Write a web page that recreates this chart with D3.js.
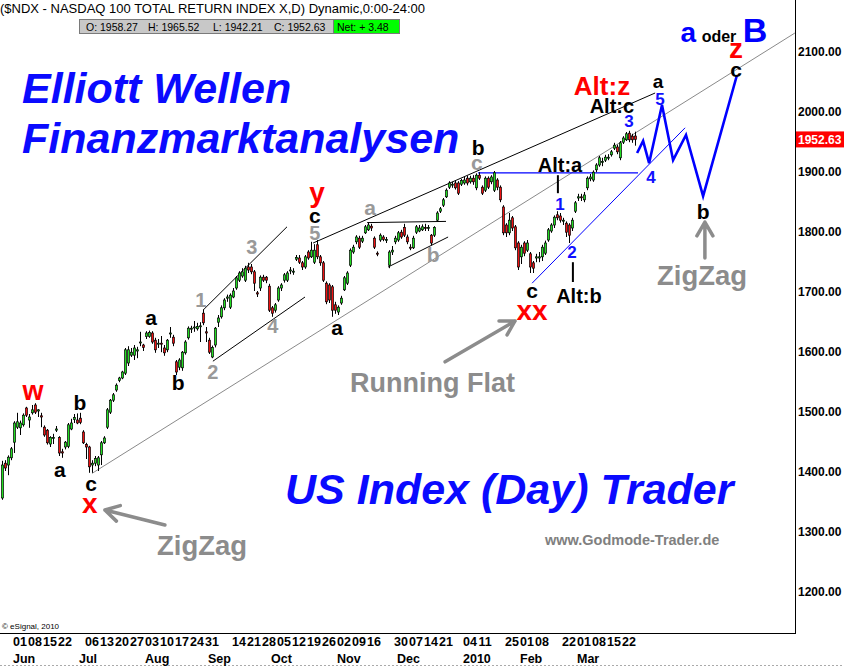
<!DOCTYPE html>
<html><head><meta charset="utf-8">
<script src="https://cdn.jsdelivr.net/npm/d3@7"></script>
<style>
html,body{margin:0;padding:0;background:#fff;}
svg{display:block;font-family:Arial,"Liberation Sans",sans-serif;}
</style></head><body>
<svg id="c" width="844" height="666"></svg>
<script>
// ---------- data (daily bars, index 0 = 21 May 2009) ----------
const opens = [
1355,1413,1410,1422,1448,1473,1472,1477,1505,1485,
1497,1510,1500,1492,1473,1468,1445,1455,1468,1456,
1432,1440,1441,1470,1486,1485,1488,1465,1444,1440,
1410,1413,1410,1427,1447,1473,1498,1518,1535,1551,
1555,1563,1580,1593,1593,1600,1615,1610,1624,1624,
1630,1618,1612,1613,1605,1602,1629,1623,1582,1573,
1572,1597,1622,1637,1640,1637,1641,1663,1632,1618,
1590,1610,1648,1657,1672,1688,1673,1690,1705,1718,
1725,1718,1740,1740,1732,1697,1705,1723,1723,1708,
1672,1668,1685,1705,1718,1718,1735,1732,1753,1755,
1747,1740,1765,1757,1748,1777,1757,1747,1713,1710,
1707,1677,1665,1680,1702,1713,1743,1765,1782,1788,
1783,1797,1802,1808,1788,1763,1785,1790,1785,1743,
1765,1782,1785,1798,1806,1790,1773,1772,1798,1800,
1802,1806,1805,1793,1793,1818,1833,1843,1857,1873,
1877,1880,1880,1878,1880,1888,1882,1888,1872,1893,
1873,1868,1888,1882,1868,1885,1873,1840,1810,1797,
1822,1807,1780,1757,1780,1768,1762,1747,1755,1755,
1757,1763,1785,1800,1810,1827,1825,1817,1813,1810,
1805,1833,1855,1857,1852,1872,1887,1885,1902,1910,
1915,1918,1922,1927,1938,1940,1922,1948,1952,1963,
1958,1958.27];
const highs = [
1417,1418,1426,1440,1483,1497,1484,1496,1507,1495,
1510,1513,1503,1497,1476,1470,1458,1462,1475,1458,
1437,1450,1480,1487,1495,1496,1497,1468,1447,1442,
1418,1425,1425,1450,1458,1505,1520,1530,1546,1557,
1567,1605,1608,1605,1610,1607,1632,1612,1633,1634,
1633,1622,1620,1625,1610,1620,1640,1627,1585,1588,
1600,1618,1641,1642,1650,1647,1648,1669,1640,1622,
1609,1640,1660,1676,1688,1694,1696,1705,1725,1733,
1738,1742,1747,1745,1735,1700,1726,1727,1725,1712,
1675,1680,1708,1713,1730,1733,1740,1738,1760,1760,
1750,1760,1768,1782,1778,1785,1760,1750,1716,1713,
1710,1682,1676,1692,1725,1733,1771,1777,1793,1792,
1792,1810,1815,1812,1791,1766,1796,1793,1790,1768,
1775,1792,1800,1802,1812,1794,1778,1792,1810,1810,
1811,1812,1810,1795,1808,1833,1840,1855,1871,1883,
1882,1884,1883,1887,1890,1892,1892,1893,1896,1898,
1876,1891,1891,1893,1900,1888,1876,1843,1813,1830,
1825,1810,1783,1777,1783,1785,1765,1750,1762,1765,
1777,1784,1805,1813,1826,1833,1830,1822,1816,1813,
1822,1850,1862,1862,1865,1891,1895,1901,1913,1925,
1922,1927,1928,1935,1947,1944,1950,1958,1965,1967,
1962,1965.52];
const lows = [
1352,1400,1393,1418,1430,1470,1460,1474,1490,1472,
1494,1495,1490,1473,1457,1444,1440,1445,1465,1425,
1422,1436,1438,1468,1480,1478,1478,1445,1420,1397,
1397,1408,1400,1410,1445,1470,1495,1515,1532,1548,
1553,1560,1575,1590,1585,1588,1608,1600,1620,1622,
1612,1597,1605,1598,1592,1598,1622,1608,1560,1568,
1567,1594,1619,1630,1632,1634,1615,1643,1615,1595,
1588,1606,1640,1654,1668,1682,1670,1688,1702,1715,
1722,1715,1730,1728,1700,1690,1700,1715,1713,1665,
1657,1664,1682,1700,1714,1715,1728,1727,1750,1745,
1735,1737,1752,1755,1745,1753,1742,1715,1678,1680,
1657,1662,1660,1677,1700,1710,1740,1762,1778,1770,
1780,1795,1800,1800,1770,1758,1782,1783,1780,1738,
1760,1778,1782,1787,1790,1778,1768,1770,1795,1798,
1800,1800,1800,1776,1790,1815,1830,1840,1855,1870,
1872,1869,1860,1875,1877,1876,1879,1877,1868,1885,
1860,1865,1870,1878,1865,1868,1848,1793,1790,1793,
1800,1768,1735,1745,1758,1765,1730,1730,1748,1748,
1750,1760,1782,1797,1805,1818,1814,1810,1790,1780,
1800,1830,1850,1850,1848,1868,1883,1882,1898,1907,
1908,1915,1918,1924,1935,1928,1918,1945,1950,1948,
1947,1942.21];
const closes = [
1410,1405,1423,1437,1480,1482,1480,1493,1493,1490,
1502,1498,1502,1490,1460,1447,1456,1456,1470,1430,
1430,1448,1477,1480,1489,1480,1481,1447,1440,1407,
1413,1421,1422,1447,1455,1502,1518,1527,1543,1555,
1565,1602,1602,1598,1605,1602,1615,1606,1630,1631,
1615,1602,1613,1612,1597,1618,1630,1613,1565,1585,
1598,1615,1638,1638,1640,1641,1642,1647,1630,1598,
1606,1638,1655,1672,1685,1690,1693,1700,1722,1730,
1732,1738,1735,1732,1713,1695,1723,1718,1718,1668,
1663,1677,1705,1710,1727,1730,1735,1733,1756,1748,
1740,1757,1755,1768,1768,1757,1747,1718,1682,1685,
1668,1668,1673,1688,1722,1730,1768,1773,1790,1773,
1788,1807,1810,1805,1773,1762,1793,1786,1786,1765,
1768,1788,1797,1790,1793,1782,1772,1788,1807,1805,
1807,1805,1806,1780,1806,1830,1837,1852,1868,1880,
1878,1872,1863,1884,1885,1880,1888,1882,1893,1888,
1863,1888,1873,1890,1897,1873,1852,1797,1797,1818,
1805,1772,1740,1773,1763,1780,1740,1738,1757,1757,
1773,1780,1802,1810,1823,1822,1818,1818,1798,1793,
1818,1847,1857,1856,1860,1888,1890,1898,1910,1922,
1916,1923,1923,1932,1943,1932,1947,1955,1962,1952,
1952,1952.63];

// x-axis tick labels: [bar index, label]
const dayTicks = [[6,"01"],[11,"08"],[16,"15"],[21,"22"],[30,"06"],[35,"13"],[40,"20"],[45,"27"],
 [50,"03"],[55,"10"],[60,"17"],[65,"24"],[70,"31"],[79,"14"],[84,"21"],[89,"28"],
 [94,"05"],[99,"12"],[104,"19"],[109,"26"],[114,"02"],[119,"09"],[124,"16"],[133,"30"],
 [138,"07"],[143,"14"],[148,"21"],[156,"04"],[161,"11"],[170,"25"],[175,"01"],[180,"08"],
 [189,"22"],[194,"01"],[199,"08"],[204,"15"],[209,"22"]];
const monthTicks = [[6,"Jun"],[28,"Jul"],[50,"Aug"],[71,"Sep"],[92,"Oct"],[114,"Nov"],
 [134,"Dec"],[156,"2010"],[175,"Feb"],[194,"Mar"]];
const priceTicks = [1200,1300,1400,1500,1600,1700,1800,1900,2000,2100];
const lastQuote = {o:1958.27, h:1965.52, l:1942.21, c:1952.63, net:3.48};

// annotation lines in data space [bar index, price]
const trendLines = [
 {pts:[[30,1396],[264.3,2130]], color:"#8a8a8a", w:1},
 {pts:[[67,1668],[95,1807]], color:"#000", w:1},
 {pts:[[70.3,1583],[101,1690]], color:"#000", w:1},
 {pts:[[103.7,1780],[217.7,2030]], color:"#000", w:1},
 {pts:[[121.7,1814],[148,1816]], color:"#000", w:1},
 {pts:[[128.7,1740],[148.7,1790]], color:"#000", w:1},
 {pts:[[158.7,1897],[212,1897]], color:"#0000ff", w:1.3},
 {pts:[[176.7,1713],[227.7,1972]], color:"#0000ff", w:1},
 {pts:[[185.3,1893],[185.3,1863]], color:"#000", w:2},
 {pts:[[190.3,1748],[190.3,1715]], color:"#000", w:2}
];
const projection = [[211.7,1930],[213.7,1950],[215.7,1913],[220,2010],[223.7,1918],
 [228,1960],[233.7,1858],[245,2060]];
const arrows = [
 {from:[54.3,1310], to:[34.3,1335]},
 {from:[147.7,1582], to:[171,1650]},
 {from:[234.3,1755], to:[234.3,1815]}
];
// wave labels: [bar index, price(baseline), text, colour, font size]
const waveLabels = [
 [10.3,1518,"w","#ff0000",27],[19.3,1390,"a","#000",21],[26,1502,"b","#000",21],
 [29.7,1366,"c","#000",21],[29.3,1330,"x","#ff0000",28],[49.7,1643,"a","#000",21],
 [58.7,1535,"b","#000",21],[66.3,1673,"1","#999",20],[70.3,1553,"2","#999",20],
 [83.3,1762,"3","#999",20],[90.3,1630,"4","#999",20],[104.3,1785,"5","#999",20],
 [104.3,1813,"c","#000",21],[105,1848,"y","#ff0000",28],[122.7,1827,"a","#999",21],
 [143.7,1748,"b","#999",21],[111.7,1627,"a","#000",21],[158.7,1927,"b","#000",21],
 [158.3,1902,"c","#999",21],[186,1898,"Alt:a","#000",20],[186,1835,"1","#1010ff",17],
 [190,1755,"2","#1010ff",17],[176.7,1689,"c","#000",21],[176.7,1651,"xx","#ff0000",28],
 [192.3,1680,"Alt:b","#000",20],[209,1973,"3","#1010ff",17],[203.3,1997,"Alt:c","#000",20],
 [200,2026,"Alt:z","#ff0000",26],[218.7,2038,"a","#000",19],[219.3,2010,"5","#1010ff",17],
 [216.3,1880,"4","#1010ff",17],[233.7,1820,"b","#000",21],[244.7,2056,"c","#000",21],
 [244.7,2089,"z","#ff0000",28],[228.8,2115,"a","#0000ff",28],[239,2115,"oder","#000",16],
 [251,2115,"B","#0000ff",34]
];

// ---------- drawing ----------
const svg = d3.select("#c");
const x = d3.scaleLinear().domain([0, 211]).range([2, 635]);
const y = d3.scaleLinear().domain([1200, 2100]).range([591, 51]);
const PLOT_R = 795, PLOT_B = 633;

svg.append("defs").append("clipPath").attr("id","clip")
  .append("rect").attr("x",0).attr("y",0).attr("width",PLOT_R).attr("height",PLOT_B);
const plot = svg.append("g").attr("clip-path","url(#clip)");

// big watermark texts
const blue = "#0a0aff";
plot.append("text").attr("x",22).attr("y",103).attr("fill",blue)
  .style("font","italic bold 43px Arial, 'Liberation Sans'").text("Elliott Wellen");
plot.append("text").attr("x",22).attr("y",153).attr("fill",blue)
  .style("font","italic bold 43px Arial, 'Liberation Sans'").text("Finanzmarktanalysen");
plot.append("text").attr("x",285).attr("y",504).attr("fill",blue)
  .style("font","italic bold 43px Arial, 'Liberation Sans'").text("US Index (Day) Trader");
const grey = "#8c8c8c";
plot.append("text").attr("x",350).attr("y",392).attr("fill",grey)
  .style("font","bold 27px Arial, 'Liberation Sans'").text("Running Flat");
plot.append("text").attr("x",157).attr("y",555).attr("fill",grey)
  .style("font","bold 27.5px Arial, 'Liberation Sans'").text("ZigZag");
plot.append("text").attr("x",657).attr("y",285).attr("fill",grey)
  .style("font","bold 27.5px Arial, 'Liberation Sans'").text("ZigZag");
plot.append("text").attr("x",545).attr("y",545).attr("fill","#808080")
  .style("font","bold 14.5px Arial, 'Liberation Sans'").text("www.Godmode-Trader.de");
plot.append("text").attr("x",2).attr("y",629).attr("fill","#000")
  .style("font","8px Arial, 'Liberation Sans'").text("\u00A9 eSignal, 2010");

// trend lines
const line = d3.line().x(d => x(d[0])).y(d => y(d[1]));
plot.selectAll("path.tl").data(trendLines).join("path").attr("class","tl")
  .attr("d", d => line(d.pts)).attr("fill","none")
  .attr("stroke", d => d.color).attr("stroke-width", d => d.w);

// candles
const idx = d3.range(closes.length);
const cg = plot.append("g");
cg.selectAll("line").data(idx).join("line")
  .attr("x1", i => x(i)+0.5).attr("x2", i => x(i)+0.5)
  .attr("y1", i => y(highs[i])).attr("y2", i => y(lows[i]))
  .attr("stroke","#000").attr("stroke-width",1);
cg.selectAll("rect").data(idx).join("rect")
  .attr("x", i => x(i)-0.5).attr("width", 2)
  .attr("y", i => y(Math.max(opens[i],closes[i])))
  .attr("height", i => Math.max(1, Math.abs(y(opens[i]) - y(closes[i]))))
  .attr("fill", i => closes[i] >= opens[i] ? "#22dd22" : "#ee1111")
  .attr("stroke","#000").attr("stroke-width",0.7);

// projection path
plot.append("path").attr("d", line(projection)).attr("fill","none")
  .attr("stroke","#0000ff").attr("stroke-width",2.6).attr("stroke-linejoin","miter");

// arrows
arrows.forEach(a => {
  const x1 = x(a.from[0]), y1 = y(a.from[1]), x2 = x(a.to[0]), y2 = y(a.to[1]);
  const ang = Math.atan2(y2-y1, x2-x1), L = 16, s = Math.PI/6;
  const p = d3.path();
  p.moveTo(x1,y1); p.lineTo(x2,y2);
  p.moveTo(x2 - L*Math.cos(ang - s), y2 - L*Math.sin(ang - s)); p.lineTo(x2,y2);
  p.lineTo(x2 - L*Math.cos(ang + s), y2 - L*Math.sin(ang + s));
  plot.append("path").attr("d", p.toString()).attr("fill","none")
    .attr("stroke", grey).attr("stroke-width",3.5).attr("stroke-linecap","round")
    .attr("stroke-linejoin","round");
});

// wave labels
plot.selectAll("text.wl").data(waveLabels).join("text").attr("class","wl")
  .attr("x", d => x(d[0])).attr("y", d => y(d[1]))
  .attr("text-anchor","middle").attr("fill", d => d[3])
  .style("font-weight","bold").style("font-size", d => d[4]+"px").text(d => d[2]);

// frame
svg.append("line").attr("x1",PLOT_R+0.5).attr("x2",PLOT_R+0.5).attr("y1",0).attr("y2",PLOT_B+1)
  .attr("stroke","#000");
svg.append("line").attr("x1",0).attr("x2",PLOT_R+1).attr("y1",PLOT_B+0.5).attr("y2",PLOT_B+0.5)
  .attr("stroke","#000");
svg.append("line").attr("x1",0).attr("x2",844).attr("y1",665.5).attr("y2",665.5)
  .attr("stroke","#aaa").attr("stroke-dasharray","2,2");

// y axis labels
svg.selectAll("text.yt").data(priceTicks).join("text").attr("class","yt")
  .attr("x",798).attr("y", d => y(d)+4.5)
  .style("font","bold 12px Arial, 'Liberation Sans'").attr("fill","#000")
  .text(d => d3.format(".2f")(d));
svg.append("rect").attr("x",796).attr("y",y(lastQuote.c)-8).attr("width",48).attr("height",16)
  .attr("fill","#ff0000");
svg.append("text").attr("x",798).attr("y",y(lastQuote.c)+4.5)
  .style("font","bold 12px Arial, 'Liberation Sans'").attr("fill","#fff")
  .text(d3.format(".2f")(lastQuote.c));

// x axis labels
svg.selectAll("text.dt").data(dayTicks).join("text").attr("class","dt")
  .attr("x", d => x(d[0])).attr("y",646).attr("text-anchor","middle")
  .style("font","bold 12.5px Arial, 'Liberation Sans'").text(d => d[1]);
svg.selectAll("text.mt").data(monthTicks).join("text").attr("class","mt")
  .attr("x", d => x(d[0]) - 7).attr("y",663)
  .style("font","bold 12.5px Arial, 'Liberation Sans'").text(d => d[1]);

// header
svg.append("text").attr("x",0).attr("y",13)
  .style("font","13px Arial, 'Liberation Sans'").attr("fill","#000")
  .text("($NDX - NASDAQ 100 TOTAL RETURN INDEX X,D) Dynamic,0:00-24:00");
svg.append("rect").attr("x",79.5).attr("y",19.5).attr("width",254).attr("height",14)
  .attr("fill","#c8c8c8").attr("stroke","#7a7a7a");
svg.append("rect").attr("x",333.5).attr("y",19.5).attr("width",66).attr("height",14)
  .attr("fill","#00ff00").attr("stroke","#7a7a7a");
const hdr = [[86,"O: "+lastQuote.o.toFixed(2)],[148,"H: "+lastQuote.h.toFixed(2)],
 [213,"L: "+lastQuote.l.toFixed(2)],[274,"C: "+lastQuote.c.toFixed(2)],[337,"Net: + "+lastQuote.net.toFixed(2)]];
svg.selectAll("text.hd").data(hdr).join("text").attr("class","hd")
  .attr("x", d => d[0]).attr("y",31)
  .style("font","10.5px Arial, 'Liberation Sans'").attr("fill","#000").text(d => d[1]);
</script>
</body></html>
